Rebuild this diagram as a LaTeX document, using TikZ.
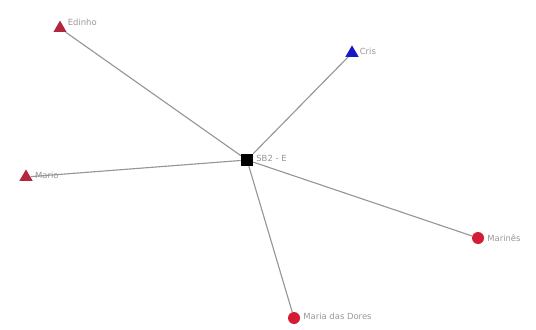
\documentclass[tikz,border=0pt]{standalone}
\usepackage{fontspec}
\setmainfont{DejaVu Sans}
\usepackage{tikz}
\usetikzlibrary{positioning}
\usetikzlibrary{shapes.geometric}

\definecolor{tri}{RGB}{178,38,62}
\definecolor{dot}{RGB}{212,28,52}
\definecolor{cris}{RGB}{22,22,205}
\definecolor{txt}{RGB}{150,150,150}
\definecolor{edge}{RGB}{150,150,150}

\begin{document}
\begin{tikzpicture}[
  person/.style={regular polygon,regular polygon sides=3,fill=tri,inner sep=0pt,minimum size=0.38cm},
  pdot/.style={circle,fill=dot,inner sep=0pt,minimum size=0.3cm},
  hub/.style={rectangle,fill=black,inner sep=0pt,minimum size=0.3cm},
  lbl/.style={text=txt,font=\fontsize{6}{7}\selectfont,inner sep=1pt},
  link/.style={edge,line width=0.8pt}
]
\useasboundingbox (0,0) rectangle (13.4,8.225);

%nos
\node[hub] (sb2) at (6.175,4.225) {};
\node[person] (edinho) at (1.5,7.52) {};
\node[person,fill=cris] (cris) at (8.8,6.9) {};
\node[person] (mario) at (0.65,3.8) {};
\node[pdot] (marines) at (11.95,2.275) {};
\node[pdot] (dores) at (7.35,0.275) {};

%rotulos
\node[lbl,right=1pt of sb2,yshift=1pt] (lsb2) {SB2 - E};
\node[lbl,right=1pt of edinho,yshift=4pt] (ledinho) {Edinho};
\node[lbl,right=1pt of cris,yshift=1pt] (lcris) {Cris};
\node[lbl,right=2pt of mario,yshift=1pt] (lmario) {Mario};
\node[lbl,right=1pt of marines] (lmarines) {Marinês};
\node[lbl,right=1pt of dores,yshift=1pt] (ldores) {Maria das Dores};

%ligacoes
\foreach \n in {edinho,cris,mario,marines,dores}
  \draw[link] (sb2) -- (\n);
\end{tikzpicture}
\end{document}
